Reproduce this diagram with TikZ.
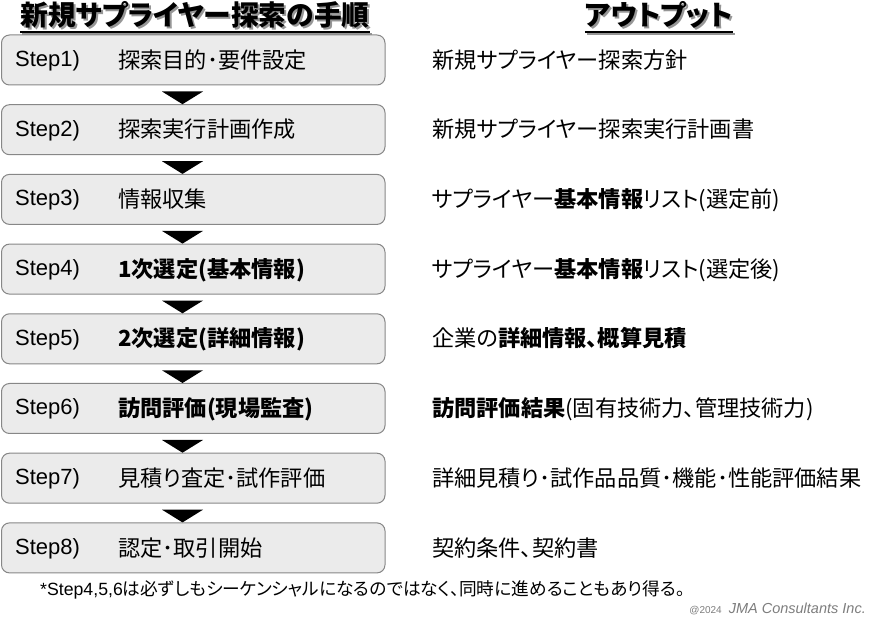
\documentclass[tikz,border=0pt]{standalone}
\usepackage{fontspec}
\setmainfont{Liberation Sans}
\newfontfamily\jp{Noto Sans CJK JP}[RawFeature=+palt]
\usetikzlibrary{calc}
\definecolor{boxfill}{RGB}{235,235,235}
\definecolor{boxline}{RGB}{135,135,135}
\definecolor{shadowgray}{RGB}{150,150,150}
\definecolor{copygray}{RGB}{125,125,125}
\newcommand{\shadowtext}[1]{\makebox[0pt][l]{\hspace{2pt}\raisebox{-2pt}{\textcolor{shadowgray}{#1}}}#1}
\tikzset{
  stepbox/.style={draw=boxline, fill=boxfill, line width=1pt, rounded corners=8pt,
    minimum width=383.5pt, minimum height=50pt, inner sep=0pt},
  steplbl/.style={anchor=base west, inner sep=0pt, font=\fontsize{22}{24}\selectfont},
  jptext/.style={anchor=base west, inner sep=0pt, font=\jp\fontsize{22.2}{24}\selectfont},
  headtext/.style={anchor=base, inner sep=0pt, font=\jp\bfseries\fontsize{27.8}{30}\selectfont},
  arrowtri/.style={fill=black},
}
\begin{document}
\begin{tikzpicture}[x=1pt,y=-1pt]
\useasboundingbox (0,0) rectangle (871,617);
% headings with shadow and underline
\node[headtext] (h1) at (195,26) {\shadowtext{新規サプライヤー探索の手順}};
\draw[shadowgray, line width=2pt] ([xshift=2pt,yshift=-8pt]h1.base west) -- ([xshift=2pt,yshift=-8pt]h1.base east);
\draw[black, line width=2pt] ([yshift=-6pt]h1.base west) -- ([yshift=-6pt]h1.base east);
\node[headtext] (h2) at (659,26) {\shadowtext{アウトプット}};
\draw[shadowgray, line width=2pt] ([xshift=2pt,yshift=-8pt]h2.base west) -- ([xshift=2pt,yshift=-8pt]h2.base east);
\draw[black, line width=2pt] ([yshift=-6pt]h2.base west) -- ([yshift=-6pt]h2.base east);
% step boxes
\foreach \i in {1,...,8} {
  \node[stepbox] (b\i) at (193.25,{60+69.7*(\i-1)}) {};
}
% arrows (triangles)
\foreach \i [evaluate=\i as \j using int(\i+1)] in {1,...,7} {
  \fill[arrowtri] ($(b\i.south)+(-31.25,6)$) -- ($(b\i.south)+(9.75,6)$) -- ($(b\j.north)+(-10.75,0)$) -- cycle;
}
% step labels
\foreach \i in {1,...,8} {
  \node[steplbl] (s\i) at (15,{66.5+69.7*(\i-1)}) {Step\i)};
}
% step texts
\node[jptext] (t1) at (118,68.2) {探索目的･要件設定};
\node[jptext] (t2) at (118,137.9) {探索実行計画作成};
\node[jptext] (t3) at (118,207.6) {情報収集};
\node[jptext] (t4) at (118,277.3) {\bfseries 1次選定(基本情報)};
\node[jptext] (t5) at (118,347.0) {\bfseries 2次選定(詳細情報)};
\node[jptext] (t6) at (118,416.7) {\bfseries 訪問評価(現場監査)};
\node[jptext] (t7) at (118,486.4) {見積り査定･試作評価};
\node[jptext] (t8) at (118,556.1) {認定･取引開始};
% outputs
\node[jptext] (o1) at (432,68.2) {新規サプライヤー探索方針};
\node[jptext] (o2) at (432,137.9) {新規サプライヤー探索実行計画書};
\node[jptext] (o3) at (432,207.6) {サプライヤー{\bfseries 基本情報}リスト(選定前)};
\node[jptext] (o4) at (432,277.3) {サプライヤー{\bfseries 基本情報}リスト(選定後)};
\node[jptext] (o5) at (432,347.0) {企業の{\bfseries 詳細情報、概算見積}};
\node[jptext] (o6) at (432,416.7) {{\bfseries 訪問評価結果}(固有技術力、管理技術力)};
\node[jptext] (o7) at (432,486.4) {詳細見積り･試作品品質･機能･性能評価結果};
\node[jptext] (o8) at (432,556.1) {契約条件、契約書};
% note
\node[anchor=base west, inner sep=0pt, font=\fontsize{17.7}{20}\selectfont] (note) at (40,595)
  {*Step4,5,6{\jp は必ずしもシーケンシャルになるのではなく、同時に進めることもあり得る。}};
% copyright
\node[anchor=base east, inner sep=0pt, text=copygray, font=\itshape\fontsize{14.5}{16}\selectfont] (copy) at (866,613)
  {{\upshape\fontsize{10}{12}\selectfont @2024}\hspace{7pt}JMA Consultants Inc.};
\end{tikzpicture}
\end{document}
